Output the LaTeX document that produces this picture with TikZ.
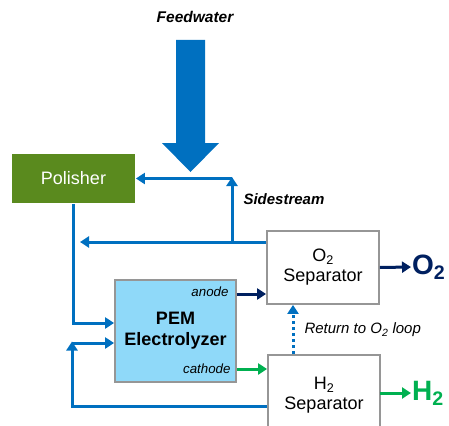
\documentclass[tikz,border=0pt]{standalone}
\usepackage{fontspec}
\setmainfont{Liberation Sans}
\usetikzlibrary{arrows.meta}

\definecolor{flowblue}{RGB}{0,112,192}
\definecolor{navy}{RGB}{0,32,96}
\definecolor{hgreen}{RGB}{0,176,80}
\definecolor{polgreen}{RGB}{90,138,30}
\definecolor{pemblue}{RGB}{143,217,249}
\definecolor{boxgray}{RGB}{150,150,150}

\begin{document}
\begin{tikzpicture}[x=1pt,y=-1pt,
  flow/.style={draw=flowblue,line width=3pt,-{Triangle[length=9pt,width=11pt]}},
  unit/.style={draw=boxgray,line width=1.8pt,fill=white,align=center,
    font=\fontsize{18}{20}\selectfont,inner sep=0pt}]

\useasboundingbox (0,0) rectangle (449,425);

% feedwater
\node[font=\fontsize{15.5}{17}\selectfont\bfseries\itshape] (feed) at (195,17) {Feedwater};
\fill[flowblue] (176,40) -- (205,40) -- (205,143) -- (219,143) -- (190.5,172)
  -- (162,143) -- (176,143) -- cycle;

% units
\node[unit,draw=none,fill=polgreen,text=white,minimum width=123pt,minimum height=49pt]
  (polisher) at (73.5,178.5) {Polisher};
\node[unit,fill=pemblue,font=\fontsize{18}{21}\selectfont\bfseries,
  minimum width=121pt,minimum height=102pt] (pem) at (175.5,331) {PEM\\Electrolyzer};
\node[unit,minimum width=112pt,minimum height=73pt] (osep) at (323,267.5)
  {O\textsubscript{2}\\Separator};
\node[unit,minimum width=112pt,minimum height=80pt] (hsep) at (324,395)
  {H\textsubscript{2}\\Separator};

% labels
\node[font=\fontsize{15}{17}\selectfont\bfseries\itshape,anchor=west] (side) at (240,199) {Sidestream};
\node[font=\fontsize{13.3}{15}\selectfont\itshape,anchor=east] (anode) at (232,292) {anode};
\node[font=\fontsize{13.3}{15}\selectfont\itshape,anchor=east] (cathode) at (234,369) {cathode};
\node[font=\fontsize{15}{17}\selectfont\itshape,anchor=west] (ret) at (301,330)
  {Return to O\textsubscript{2} loop};
\node[font=\fontsize{28}{30}\selectfont\bfseries,text=navy,anchor=west,inner sep=1pt] (o2) at (411,267)
  {O\textsubscript{2}};
\node[font=\fontsize{28}{30}\selectfont\bfseries,text=hgreen,anchor=west,inner sep=1pt] (h2) at (411,393)
  {H\textsubscript{2}};

% recycle lines
\coordinate (ss) at (232,242);
\coordinate (back) at (80,242);
\coordinate (ret2) at (72,343);
\draw[flow] (osep.west |- ss) -- (back);
\draw[flow,shorten >=-1.5pt] (ss) -- (ss |- polisher.east);
\draw[flow] (ss |- polisher.east) -- (polisher.east);
\draw[flow] (polisher.south) |- ([yshift=8pt]pem.west);
\draw[flow,shorten >=-1.5pt] ([yshift=-11pt]hsep.west) -| (ret2);
\draw[flow] (ret2) -- (ret2 -| pem.west);

% product lines
\coordinate (an) at ([yshift=37pt]pem.east);
\coordinate (ca) at ([yshift=-38pt]pem.east);
\draw[flow,draw=navy] (an) -- (an -| osep.west);
\draw[flow,draw=hgreen] (ca) -- (ca -| hsep.west);
\draw[flow,dash pattern=on 3pt off 3pt] ([xshift=-31pt]hsep.north) -- ([xshift=-30pt]osep.south);
\draw[flow,draw=navy] (osep.east) -- (o2.west);
\draw[flow,draw=hgreen] (osep.east |- h2) -- (h2.west);

\end{tikzpicture}
\end{document}
